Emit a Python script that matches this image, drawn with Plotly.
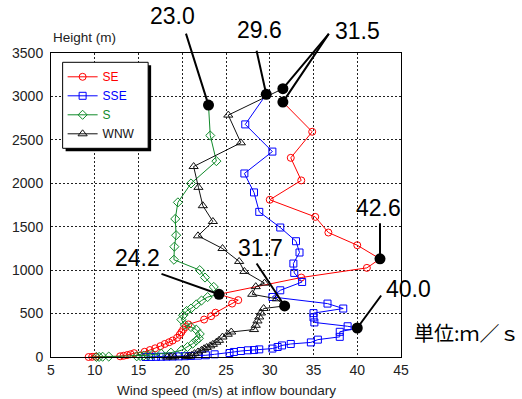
import plotly.graph_objects as go

# ---------------- data (wind speed m/s, height m) ----------------
se_speed = [9.3, 9.7, 10.1, 12.9, 13.3, 13.7, 14.1, 14.5, 15.7, 16.3, 16.9, 17.5, 18.0, 18.5,
            18.9, 19.4, 19.7, 19.9, 20.1, 20.4, 20.7, 22.5, 23.3, 23.8, 25.7, 26.4, 24.2,
            33.6, 41.1, 42.6, 40.0, 36.7, 35.2, 30.0, 33.6, 32.4, 34.85, 31.5]
se_height = [0, 2, 4, 8, 14, 22, 32, 44, 60, 80, 100, 125, 150, 170,
             190, 220, 255, 285, 315, 345, 375, 431, 470, 510, 615, 655, 722,
             915, 1026, 1130, 1287, 1433, 1613, 1810, 2033, 2293, 2593, 2935]

sse_speed = [15.8, 16.4, 17.0, 17.6, 18.2, 18.9, 19.6, 20.3, 21.0, 21.8, 22.7, 23.7, 25.4,
             25.9, 26.7, 27.5, 28.2, 28.8, 30.3, 30.9, 31.4, 32.4, 34.7, 35.5, 38.0, 38.0,
             40.0, 38.9, 35.1, 35.0, 35.0, 38.4, 36.6, 30.3, 31.2, 33.7, 32.8, 32.7, 33.4,
             33.0, 31.2, 28.8, 28.2, 27.1, 30.3, 27.2, 29.6]
sse_height = [0, 1, 2, 3, 4, 5, 7, 9, 12, 16, 20, 31, 46,
              58, 69, 77, 80, 88, 97, 115, 133, 150, 168, 200, 232, 290,
              334, 354, 398, 455, 505, 558, 615, 691, 768, 864, 968, 1076, 1203,
              1333, 1491, 1671, 1895, 2113, 2365, 2678, 3024]

s_speed = [10.2, 10.5, 10.9, 11.6, 14.8, 15.2, 15.6, 16.1, 16.6, 17.6, 18.7, 19.9, 20.6,
           21.2, 21.6, 21.9, 22.0, 21.6, 21.0, 20.3, 19.9, 20.1, 20.5, 21.0, 21.6, 22.2,
           22.9, 24.2, 23.6, 22.6, 22.0, 19.05, 19.1, 19.3, 19.2, 19.5, 21.0, 23.9, 23.2, 23.0]
s_height = [0, 1, 3, 5, 8, 11, 15, 20, 28, 38, 50, 77, 115,
            154, 190, 215, 265, 315, 345, 370, 430, 480, 530, 558, 605, 650,
            690, 722, 807, 915, 1000, 1120, 1270, 1402, 1590, 1780, 1998, 2255, 2550, 2900]

wnw_speed = [18.3, 18.7, 19.1, 20.5, 20.8, 21.1, 21.4, 21.8, 22.2, 22.5, 22.8, 23.2, 23.5,
             23.9, 24.2, 24.6, 25.2, 25.6, 28.2, 28.4, 28.6, 28.8, 29.0, 29.3, 31.7, 30.8,
             28.0, 28.4, 29.4, 27.1, 26.5, 24.6, 21.8, 23.5, 22.35, 21.85, 21.3, 26.7, 25.26, 31.5]
wnw_height = [0, 1, 2, 4, 8, 20, 39, 58, 77, 95, 110, 128, 146,
              170, 192, 230, 262, 288, 316, 365, 415, 461, 507, 558, 588, 670,
              722, 810, 850, 985, 1100, 1249, 1395, 1560, 1742, 1953, 2193, 2466, 2785, 3089]

series_names = ["SE", "SSE", "S", "WNW"]

# highlighted values
mark_labels = ["23.0", "29.6", "31.5", "31.5", "42.6", "40.0", "24.2", "31.7"]
mark_speed = [23.0, 29.6, 31.5, 31.5, 42.6, 40.0, 24.2, 31.7]
mark_height = [2900, 3024, 3089, 2935, 1130, 334, 722, 588]

# ---------------- styling ----------------
colors = ["#ff0000", "#0000ff", "#108a2a", "#111111"]
symbols = ["circle-open", "square-open", "diamond-open", "triangle-up-open"]
msizes = [7, 7, 7, 8]
# label offsets (px) and pointer-line start offsets (px), per mark
label_shift = [(-36, 89), (-7, 64), (75, 58), None, (-2, 51), (51, 39), (-82, 36), (-24, 58)]
line_start = [(-23, -73), (-10, -45), (47, -56), (47, -70), (0, -37), (25, -34), (-59, -21), (-29, -44)]

fig = go.Figure()
data = [(se_speed, se_height), (sse_speed, sse_height), (s_speed, s_height), (wnw_speed, wnw_height)]
for name, (xs, ys), c, sym, ms in zip(series_names, data, colors, symbols, msizes):
    fig.add_trace(go.Scatter(
        x=xs, y=ys, mode="lines+markers",
        name=f"<span style='color:{c}'>{name}</span>",
        line=dict(color=c, width=1),
        marker=dict(symbol=sym, size=ms, color=c, line=dict(width=1, color=c)),
        cliponaxis=False,
    ))

fig.add_trace(go.Scatter(
    x=mark_speed, y=mark_height, mode="markers", showlegend=False,
    marker=dict(color="black", size=11), cliponaxis=False,
))

annotations = []
for lab, xv, yv, ls, st in zip(mark_labels, mark_speed, mark_height, label_shift, line_start):
    annotations.append(dict(
        x=xv, y=yv, xref="x", yref="y", text="", showarrow=True,
        ax=st[0], ay=st[1], arrowhead=0, arrowwidth=2, arrowcolor="black", standoff=0,
    ))
    if ls is not None:
        annotations.append(dict(
            x=xv, y=yv, xref="x", yref="y", text=lab, showarrow=False,
            xshift=ls[0], yshift=ls[1],
            font=dict(family="Liberation Sans, Arial", size=23, color="black"),
        ))

annotations += [
    dict(x=0, y=1.0526, xref="paper", yref="paper", text="Height (m)", showarrow=False,
         xanchor="left", yanchor="middle", font=dict(size=13.5, color="#222")),
    dict(x=0.5, y=-0.1086, xref="paper", yref="paper", text="Wind speed (m/s) at inflow boundary",
         showarrow=False, xanchor="center", yanchor="middle", font=dict(size=13.5, color="#222")),
    dict(x=(412 - 49) / 352, y=0.0822, xref="paper", yref="paper", text="単位:ｍ／ｓ", showarrow=False,
         xanchor="left", yanchor="middle",
         font=dict(family="Noto Sans CJK JP", size=20, color="black")),
]

axis_common = dict(
    showgrid=True, gridcolor="#222", gridwidth=1, griddash="2px,2px",
    showline=True, linecolor="black", linewidth=1, mirror=True,
    ticks="", zeroline=False, tickfont=dict(size=14, color="#222"),
)

def px_x(p):
    return (p - 49) / 352

def px_y(p):
    return (357 - p) / 304

fig.update_layout(
    width=522, height=399,
    margin=dict(l=49, r=121, t=53, b=42),
    paper_bgcolor="white", plot_bgcolor="white",
    font=dict(family="Liberation Sans, Arial, sans-serif", color="#222"),
    xaxis=dict(range=[5, 45], dtick=5, tick0=5, **axis_common),
    yaxis=dict(range=[0, 3500], dtick=500, tick0=0, ticklabelstandoff=4, **axis_common),
    legend=dict(x=0.0332, y=0.9694, xanchor="left", yanchor="top",
                bgcolor="rgba(0,0,0,0)", borderwidth=0,
                font=dict(size=12), tracegroupgap=0),
    annotations=annotations,
    shapes=[
        dict(type="rect", xref="paper", yref="paper",
             x0=px_x(63.7), x1=px_x(149.7), y0=px_y(151.3), y1=px_y(65.3),
             fillcolor="black", line=dict(width=0), layer="above"),
        dict(type="rect", xref="paper", yref="paper",
             x0=px_x(60.7), x1=px_x(146.7), y0=px_y(148.3), y1=px_y(62.3),
             fillcolor="white", line=dict(width=1, color="black"), layer="above"),
    ],
)

fig.write_html("out.html", post_script="document.body.style.margin='0px';",
               config={"displayModeBar": False})
